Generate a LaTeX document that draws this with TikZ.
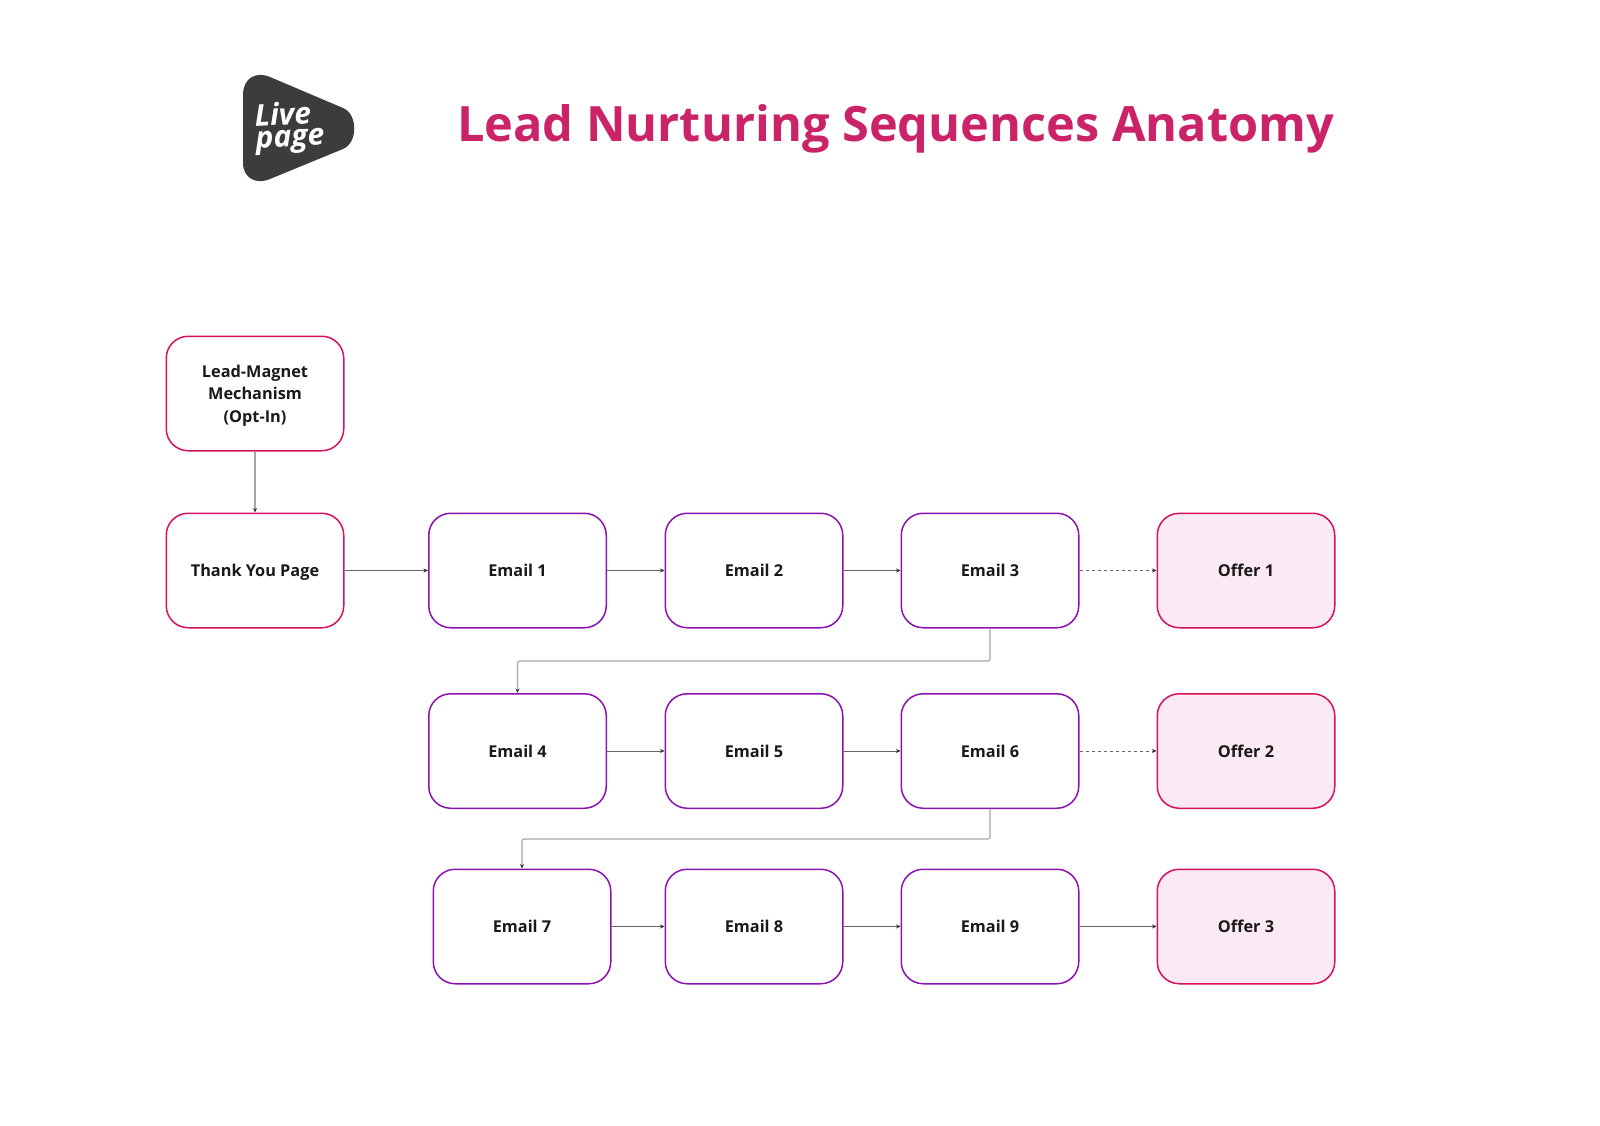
\documentclass[tikz,border=0pt]{standalone}
\usepackage{fontspec}
\setmainfont{Open Sans}
\usepackage{xcolor}
\usetikzlibrary{arrows.meta,positioning,calc}
\definecolor{leadpink}{HTML}{D6115F}
\definecolor{mailpurple}{HTML}{8A12B0}
\definecolor{offerfill}{HTML}{FBEAF3}
\definecolor{titlepink}{HTML}{CB2367}
\definecolor{logodark}{HTML}{3C3C3C}

\begin{document}
\begin{tikzpicture}[x=1pt, y=-1pt,
  every node/.style={font=\fontsize{16.3}{22.5}\selectfont\bfseries, text=black!90, align=center},
  basebox/.style={draw, line width=1.5pt, rounded corners=22pt, minimum width=177.5pt, minimum height=114.5pt, inner sep=0pt},
  leadbox/.style={basebox, draw=leadpink, text height=12pt, text depth=0pt},
  mailbox/.style={basebox, draw=mailpurple, text height=12pt, text depth=0pt},
  offerbox/.style={leadbox, fill=offerfill},
  flow/.style={-{Stealth[length=4.5pt,width=4pt,black!80]}, line width=0.6pt, black!60},
  offerflow/.style={flow, dashed},
  elbow/.style={-{Stealth[length=4.5pt,width=4pt,black!80]}, line width=1.1pt, black!35, rounded corners=2pt}]
\useasboundingbox (0,0) rectangle (1600,1126);
% logo
\fill[logodark] (243,95) .. controls (243,78) and (256,71) .. (270,77) -- (343,108)
  .. controls (358,114) and (358,143) .. (343,149) -- (270,179) .. controls (256,185) and (243,178) .. (243,163) -- cycle;
\node[text=white, font=\fontsize{30}{22}\selectfont\bfseries\itshape, align=left, rotate=3] (logo) at (289.5,128) {Live\\page};
% title
\node[text=titlepink, font=\fontsize{48.7}{60}\selectfont\bfseries] (title) at (895.5,129) {Lead Nurturing Sequences Anatomy};
% first column
\node[basebox, draw=leadpink, text depth=0pt] (magnet) at (255,393.5) {Lead-Magnet\\Mechanism\\(Opt-In)};
\node[leadbox] (thanks) at (255,570.5) {Thank You Page};
% emails
\foreach \n/\x/\y in {1/517.5/570.5, 2/754/570.5, 3/990/570.5, 4/517.5/751, 5/754/751, 6/990/751, 7/522/926.5, 8/754/926.5, 9/990/926.5} {
  \node[mailbox] (mail\n) at (\x,\y) {Email \n};
}
% offers
\foreach \n/\y in {1/570.5, 2/751, 3/926.5} {
  \node[offerbox] (offer\n) at (1246,\y) {Offer \n};
}
\draw[elbow] (magnet) -- (thanks);
\draw[flow] (thanks) -- (mail1);
\foreach \a/\b in {1/2, 2/3, 4/5, 5/6, 7/8, 8/9} {
  \draw[flow] (mail\a) -- (mail\b);
}
\draw[offerflow] (mail3) -- (offer1);
\draw[offerflow] (mail6) -- (offer2);
\draw[flow] (mail9) -- (offer3);
\draw[elbow] (mail3.south) -- ++(0,32.5) -| (mail4.north);
\draw[elbow] (mail6.south) -- ++(0,30) -| (mail7.north);
\end{tikzpicture}
\end{document}
